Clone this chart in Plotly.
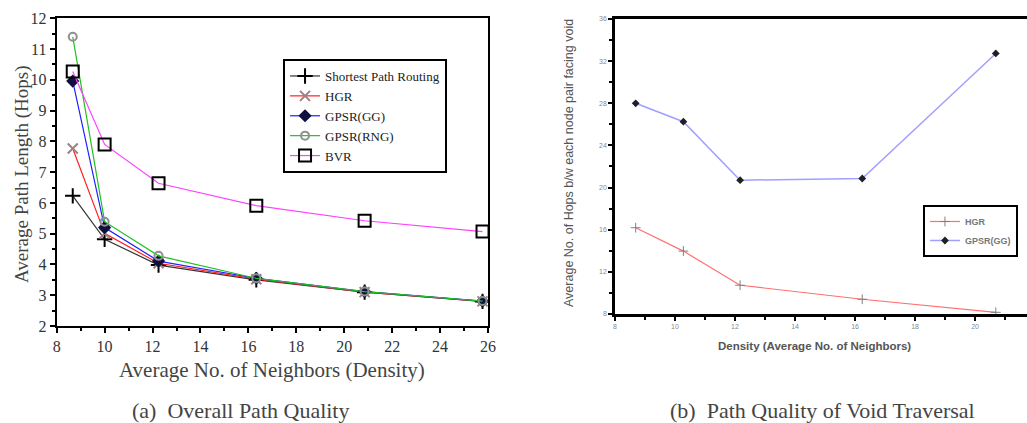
import plotly.graph_objects as go

# ---- Left chart data: (a) Overall Path Quality ----
density_a = [8.67, 10.0, 12.25, 16.33, 20.85, 25.77]
shortest = [6.23, 4.82, 3.98, 3.50, 3.10, 2.80]
hgr_a = [7.77, 5.01, 4.04, 3.52, 3.10, 2.80]
gpsr_gg_a = [9.96, 5.20, 4.11, 3.55, 3.12, 2.81]
gpsr_rng_a = [11.40, 5.39, 4.28, 3.55, 3.12, 2.81]
bvr = [10.27, 7.90, 6.64, 5.91, 5.42, 5.07]

# ---- Right chart data: (b) Path Quality of Void Traversal ----
density_b = [8.69, 10.28, 12.17, 16.24, 20.69]
hgr_b = [16.19, 13.97, 10.73, 9.40, 8.16]
gpsr_gg_b = [28.0, 26.25, 20.7, 20.86, 32.73]

left_ticks_x = [8, 10, 12, 14, 16, 18, 20, 22, 24, 26]
left_ticks_y = [2, 3, 4, 5, 6, 7, 8, 9, 10, 11, 12]
right_ticks_x = [8, 10, 12, 14, 16, 18, 20, 22]
right_ticks_y = [8, 12, 16, 20, 24, 28, 32, 36]

SERIF = "Liberation Serif"
SANS = "Liberation Sans"

fig = go.Figure()

def add_left(name, y, color, symbol, mcolor, size, lw=1.2):
    fig.add_trace(go.Scatter(
        x=density_a, y=y, name=name, mode="lines+markers",
        line=dict(color=color, width=lw),
        marker=dict(symbol=symbol, size=size, color=mcolor,
                    line=dict(color=mcolor, width=2)),
        xaxis="x", yaxis="y", legend="legend"))

add_left("Shortest Path Routing", shortest, "#333333", "cross-thin-open", "black", 11)
add_left("HGR", hgr_a, "#ff2020", "x-thin-open", "#a08080", 10)
add_left("GPSR(GG)", gpsr_gg_a, "#2020ff", "diamond", "#101040", 8)
add_left("GPSR(RNG)", gpsr_rng_a, "#20c020", "circle-open", "#909090", 8)
add_left("BVR", bvr, "#ff40ff", "square-open", "black", 12)

fig.add_trace(go.Scatter(
    x=density_b, y=hgr_b, name="HGR", mode="lines+markers",
    line=dict(color="#ff7070", width=1.2),
    marker=dict(symbol="cross-thin-open", size=7, color="#808080",
                line=dict(color="#808080", width=1)),
    xaxis="x2", yaxis="y2", legend="legend2"))
fig.add_trace(go.Scatter(
    x=density_b, y=gpsr_gg_b, name="GPSR(GG)", mode="lines+markers",
    line=dict(color="#a0a0ff", width=1.5),
    marker=dict(symbol="diamond", size=6, color="#202020"),
    xaxis="x2", yaxis="y2", legend="legend2"))

axis_common = dict(showgrid=False, zeroline=False, ticks="outside",
                   linecolor="black", tickcolor="black", automargin=False)

fig.update_layout(
    width=1027, height=423,
    margin=dict(l=0, r=0, t=0, b=0),
    paper_bgcolor="white", plot_bgcolor="white",
    xaxis=dict(domain=[0.0552, 0.4752], range=[8, 26], tickvals=left_ticks_x,
               linewidth=2, mirror=True, ticklen=5, tickwidth=2,
               minor=dict(dtick=1, ticks="outside", ticklen=3, tickwidth=2, tickcolor="black"),
               tickfont=dict(family=SERIF, size=16, color="#333333"),
               anchor="y", **axis_common),
    yaxis=dict(domain=[0.2293, 0.9567], range=[2, 12], tickvals=left_ticks_y,
               linewidth=2, mirror=True, ticklen=5, tickwidth=2,
               minor=dict(dtick=0.5, ticks="outside", ticklen=3, tickwidth=2, tickcolor="black"),
               tickfont=dict(family=SERIF, size=16, color="#333333"),
               anchor="x", **axis_common),
    xaxis2=dict(domain=[0.5988, 1.0], range=[8, 21.73], tickvals=right_ticks_x,
                linewidth=2.5, mirror=True, ticklen=4, tickwidth=1.5,
                minor=dict(dtick=1, ticks="outside", ticklen=3, tickwidth=1.5, tickcolor="black"),
                tickfont=dict(family=SANS, size=7, color="#888888"),
                anchor="y2", **axis_common),
    yaxis2=dict(domain=[0.2577, 0.9551], range=[8, 36], tickvals=right_ticks_y,
                linewidth=2.5, mirror=True, ticklen=4, tickwidth=1.5,
                minor=dict(dtick=2, ticks="outside", ticklen=3, tickwidth=1.5, tickcolor="black"),
                tickfont=dict(family=SANS, size=7, color="#888888"),
                anchor="x2", **axis_common),
    legend=dict(x=0.2756, y=0.8605, xanchor="left", yanchor="top",
                bgcolor="white", bordercolor="black", borderwidth=2,
                font=dict(family=SERIF, size=13, color="#222222"),
                itemwidth=30, tracegroupgap=0),
    legend2=dict(x=0.8987, y=0.5154, xanchor="left", yanchor="top",
                 bgcolor="white", bordercolor="black", borderwidth=2,
                 font=dict(family=SANS, size=9, color="#777777", weight="bold"),
                 itemwidth=30),
    showlegend=True,
)

ann = [
    dict(text="Average Path Length (Hops)", x=22 / 1027, y=(423 - 174) / 423,
         textangle=-90, font=dict(family=SERIF, size=19, color="#444444")),
    dict(text="Average No. of Neighbors (Density)", x=272 / 1027, y=(423 - 370) / 423,
         font=dict(family=SERIF, size=21, color="#444444")),
    dict(text="(a)  Overall Path Quality", x=241 / 1027, y=(423 - 410) / 423,
         font=dict(family=SERIF, size=22, color="#444444")),
    dict(text="Average No. of Hops b/w each node pair facing void", x=569 / 1027,
         y=(423 - 163) / 423, textangle=-90,
         font=dict(family=SANS, size=12.5, color="#555555")),
    dict(text="<b>Density (Average No. of Neighbors)</b>", x=814 / 1027, y=(423 - 346) / 423,
         font=dict(family=SANS, size=11.5, color="#555555")),
    dict(text="(b)  Path Quality of Void Traversal", x=822 / 1027, y=(423 - 410) / 423,
         font=dict(family=SERIF, size=22, color="#444444")),
]
for a in ann:
    a.update(xref="paper", yref="paper", showarrow=False, xanchor="center", yanchor="middle")
    fig.add_annotation(**a)

fig.write_html("out.html")
